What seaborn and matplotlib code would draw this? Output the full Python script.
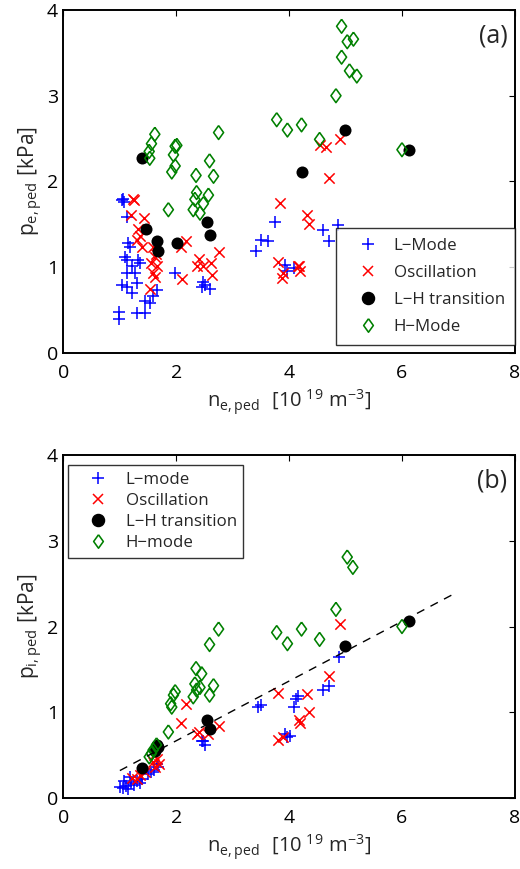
import matplotlib
matplotlib.use("Agg")
import matplotlib.pyplot as plt
import seaborn as sns
import numpy as np
from matplotlib.lines import Line2D

sns.set_style("white")
plt.rcParams['font.family'] = ['Open Sans', 'DejaVu Sans']
plt.rcParams['mathtext.fontset'] = 'custom'
plt.rcParams['mathtext.rm'] = 'Open Sans'
plt.rcParams['mathtext.it'] = 'Open Sans'

# ---------------- Panel (a) data ----------------
a_L_x = [1.06, 1.08, 1.04, 1.12, 1.15, 1.18, 1.09, 1.12, 1.33, 1.36, 1.21, 1.12, 1.27, 1.03, 1.12, 1.21,
         1.30, 1.45, 1.53, 1.59, 1.65, 0.99, 0.99, 1.30, 1.45, 1.98, 2.48, 2.51, 2.60, 2.45, 3.42, 3.51,
         3.63, 3.75, 3.93, 3.96, 4.08, 4.60, 4.70, 4.87]
a_L_y = [1.80, 1.76, 1.78, 1.59, 1.28, 1.24, 1.12, 1.08, 1.08, 1.05, 1.01, 0.93, 0.93, 0.79, 0.77, 0.70,
         0.81, 0.60, 0.58, 0.66, 0.73, 0.48, 0.39, 0.46, 0.46, 0.93, 0.83, 0.79, 0.75, 0.77, 1.19, 1.32,
         1.30, 1.53, 1.03, 0.95, 0.99, 1.43, 1.31, 1.49]
a_O_x = [1.23, 1.25, 1.20, 1.42, 1.33, 1.36, 1.30, 1.39, 1.59, 1.62, 1.56, 1.65, 1.59, 1.62, 1.53, 1.64,
         2.18, 2.09, 2.76, 2.10, 2.41, 2.36, 2.48, 2.61, 2.63, 3.84, 3.81, 3.89, 3.87, 4.16, 4.31, 4.36,
         4.54, 4.65, 4.90, 4.71, 4.18, 4.19]
a_O_y = [1.80, 1.78, 1.61, 1.57, 1.45, 1.36, 1.32, 1.24, 1.24, 1.12, 1.05, 1.01, 0.93, 0.89, 0.75, 1.15,
         1.30, 1.24, 1.18, 0.86, 1.10, 1.01, 1.01, 1.05, 0.91, 1.75, 1.06, 0.93, 0.87, 1.01, 1.61, 1.50,
         2.42, 2.40, 2.50, 2.04, 1.01, 0.95]
a_T_x = [1.40, 1.47, 1.65, 1.68, 2.01, 2.54, 2.60, 4.22, 4.99, 6.13]
a_T_y = [2.27, 1.45, 1.31, 1.19, 1.28, 1.53, 1.38, 2.11, 2.60, 2.37]
a_H_x = [1.62, 1.56, 1.52, 1.53, 1.98, 2.01, 1.95, 1.98, 1.92, 2.75, 2.59, 2.66, 2.35, 2.36, 2.57, 2.33,
         2.48, 2.30, 2.42, 1.86, 3.78, 3.97, 4.22, 4.93, 5.03, 5.14, 4.93, 5.07, 5.20, 4.83, 4.54, 6.00]
a_H_y = [2.55, 2.44, 2.35, 2.27, 2.41, 2.42, 2.31, 2.18, 2.11, 2.57, 2.24, 2.06, 2.07, 1.87, 1.84, 1.79,
         1.74, 1.67, 1.63, 1.67, 2.72, 2.60, 2.66, 3.81, 3.63, 3.66, 3.45, 3.29, 3.23, 3.00, 2.49, 2.37]

# ---------------- Panel (b) data ----------------
b_L_x = [4.89, 4.70, 4.60, 4.15, 4.08, 4.02, 3.45, 3.51, 4.13, 3.93, 3.96, 2.48, 2.51, 2.45, 1.68, 1.60,
         1.50, 1.40, 1.30, 1.20, 1.10, 1.05, 1.00, 1.15, 1.25, 1.35, 1.08, 1.18, 1.65, 1.55]
b_L_y = [1.64, 1.31, 1.26, 1.19, 1.06, 0.72, 1.06, 1.08, 1.16, 0.75, 0.71, 0.67, 0.62, 0.66, 0.36, 0.33,
         0.28, 0.22, 0.20, 0.17, 0.14, 0.12, 0.13, 0.10, 0.15, 0.18, 0.20, 0.25, 0.40, 0.30]
b_O_x = [2.18, 2.09, 2.76, 2.41, 2.36, 2.57, 3.81, 3.81, 3.90, 1.60, 1.65, 1.70, 1.62, 1.58, 1.21, 1.36,
         1.30, 1.45, 4.90, 4.71, 4.32, 4.36, 4.18, 4.20]
b_O_y = [1.10, 0.88, 0.84, 0.77, 0.75, 0.75, 1.22, 0.68, 0.71, 0.50, 0.45, 0.40, 0.36, 0.42, 0.23, 0.27,
         0.22, 0.30, 2.03, 1.42, 1.21, 1.00, 0.91, 0.88]
b_T_x = [1.40, 1.62, 1.65, 1.68, 2.54, 2.60, 4.99, 6.13]
b_T_y = [0.35, 0.55, 0.62, 0.60, 0.91, 0.81, 1.77, 2.07]
b_H_x = [2.75, 2.59, 2.66, 2.59, 2.35, 2.45, 2.33, 2.42, 2.30, 2.36, 1.98, 1.95, 1.92, 1.90, 1.86, 1.65,
         1.59, 1.56, 1.52, 3.78, 3.97, 4.22, 5.03, 5.13, 4.83, 4.54, 6.00]
b_H_y = [1.97, 1.79, 1.31, 1.20, 1.51, 1.45, 1.33, 1.29, 1.18, 1.26, 1.24, 1.20, 1.06, 1.10, 0.77, 0.62,
         0.56, 0.52, 0.48, 1.93, 1.80, 1.97, 2.81, 2.69, 2.20, 1.85, 2.00]

# dashed fit line in (b)
fit_x = [1.0, 6.95]
fit_slope = 0.348
fit_icpt = -0.028

labels_a = ["L\u2212Mode", "Oscillation", "L\u2212H transition", "H\u2212Mode"]
labels_b = ["L\u2212mode", "Oscillation", "L\u2212H transition", "H\u2212mode"]

xticks = [0, 2, 4, 6, 8]
yticks = [0, 1, 2, 3, 4]

BLUE, RED, BLACK, GREEN = "#0000ff", "#ff0000", "#000000", "#008000"
DIAMOND = [(0, 1), (0.72, 0), (0, -1), (-0.72, 0), (0, 1)]

fig = plt.figure(figsize=(5.2, 8.69), dpi=100)
ax_a = fig.add_axes([0.122, 0.594, 0.868, 0.3945])
ax_b = fig.add_axes([0.122, 0.0817, 0.868, 0.3947])


def draw(ax, Lx, Ly, Ox, Oy, Tx, Ty, Hx, Hy, labels):
    sns.scatterplot(x=Lx, y=Ly, ax=ax, marker='+', s=72, color=BLUE, linewidth=1.1, label=labels[0])
    sns.scatterplot(x=Ox, y=Oy, ax=ax, marker='x', s=55, color=RED, linewidth=1.1, label=labels[1])
    sns.scatterplot(x=Tx, y=Ty, ax=ax, marker='o', s=75, color=BLACK, edgecolor=BLACK, linewidth=0,
                    label=labels[2])
    sns.scatterplot(x=Hx, y=Hy, ax=ax, marker=DIAMOND, s=100, facecolor='none', edgecolor=GREEN,
                    linewidth=1.15, label=labels[3])


def style(ax, ylab, tag):
    ax.set_xlim(0, 8)
    ax.set_ylim(0, 4)
    ax.set_xticks(xticks)
    ax.set_yticks(yticks)
    ax.tick_params(direction='in', length=4, width=0.8, top=True, right=True, labelsize=14, colors='black')
    ax.tick_params(axis='x', pad=8)
    ax.tick_params(axis='y', pad=4)
    for s in ax.spines.values():
        s.set_linewidth(1.4)
        s.set_color('black')
    ax.set_xlabel(r'$\mathregular{n_{e,ped}\ \ [10^{\ 19}\ m^{-3}]}$', fontsize=14.5, labelpad=4)
    ax.set_ylabel(ylab, fontsize=15, labelpad=1)
    ax.text(0.984, 0.962, tag, transform=ax.transAxes, ha='right', va='top', fontsize=18)


def legend_handles(labels):
    return [
        Line2D([], [], ls='none', marker='+', ms=8.5, mew=1.1, color=BLUE, label=labels[0]),
        Line2D([], [], ls='none', marker='x', ms=7.4, mew=1.1, color=RED, label=labels[1]),
        Line2D([], [], ls='none', marker='o', ms=8.7, color=BLACK, label=labels[2]),
        Line2D([], [], ls='none', marker=DIAMOND, ms=9.7, mew=1.15, mfc='none', mec=GREEN, label=labels[3]),
    ]


draw(ax_a, a_L_x, a_L_y, a_O_x, a_O_y, a_T_x, a_T_y, a_H_x, a_H_y, labels_a)
style(ax_a, r'$\mathregular{p_{e,ped}\ [kPa]}$', '(a)')
leg = ax_a.legend(handles=legend_handles(labels_a), loc='lower right', bbox_to_anchor=(1.0, 0.023),
                  borderaxespad=0, fontsize=12.2, frameon=True, fancybox=False, edgecolor='black',
                  handlelength=2.6, handletextpad=0.2, borderpad=0.6, labelspacing=0.65)
leg.get_frame().set_linewidth(1.0)

draw(ax_b, b_L_x, b_L_y, b_O_x, b_O_y, b_T_x, b_T_y, b_H_x, b_H_y, labels_b)
fx = np.array(fit_x)
sns.lineplot(x=fx, y=fit_slope * fx + fit_icpt, ax=ax_b, color='black', linewidth=1.0,
             linestyle=(0, (6, 5)), zorder=5)
style(ax_b, r'$\mathregular{p_{i,ped}\ [kPa]}$', '(b)')
leg = ax_b.legend(handles=legend_handles(labels_b), loc='upper left', bbox_to_anchor=(0.01, 0.971),
                  borderaxespad=0, fontsize=12.2, frameon=True, fancybox=False, edgecolor='black',
                  handlelength=2.8, handletextpad=0.2, borderpad=0.4, labelspacing=0.3)
leg.get_frame().set_linewidth(1.0)

fig.savefig("out.png", dpi=100)
